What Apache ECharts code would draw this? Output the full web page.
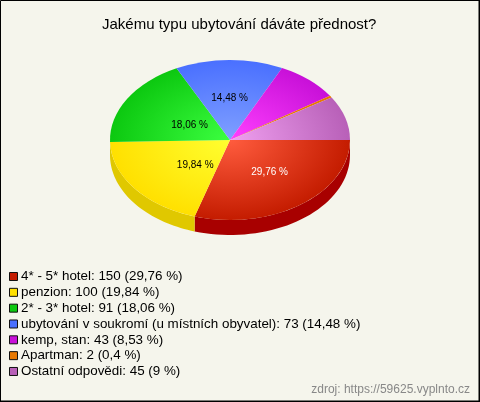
<!DOCTYPE html>
<html><head><meta charset="utf-8">
<style>html,body{margin:0;padding:0;background:#f5f5ec}#c{width:480px;height:402px}</style>
<script src="https://cdn.jsdelivr.net/npm/echarts@6/dist/echarts.min.js"></script>
</head><body><div id="c"></div>
<script>
const categories = ['4* - 5* hotel','penzion','2* - 3* hotel','ubytování v soukromí (u místních obyvatel)','kemp, stan','Apartman','Ostatní odpovědi'];
const values = [150,100,91,73,43,2,45];
const percentLabels = ['29,76 %','19,84 %','18,06 %','14,48 %','8,53 %','0,4 %','9 %'];
const edgeColors = ['#c41c00','#ffe000','#0cc810','#4a70ff','#c810d8','#e87800','#b860b8'];
const centerColors = ['#ff5c3e','#ffff30','#3cff40','#80a0ff','#ff40ff','#e87800','#f0a0f0'];
const wallColors = ['#a80000','#e0c800','#0a9a0c','#3050c0','#9a0ca8','#b05c00','#8c4a8c'];
const labelColors = ['#fff','#000','#000','#000','#000','#000','#000'];
const labelShift = [[4,0],[13,1],[11,6],[0,-2],[0,0],[0,0],[0,0]];

const CX=230, CY=140, RX=120, RY=80, DEPTH=15;
const total = values.reduce((a,b)=>a+b,0);
let acc=0;
const spans = values.map(v=>{const s=acc/total*2*Math.PI; acc+=v; return [s,acc/total*2*Math.PI];});

function slice(i){
  return function(params,api){
    const [a0,a1]=spans[i];
    const children=[];
    const w0=Math.max(a0,0), w1=Math.min(a1,Math.PI);
    if(w1>w0){
      const pts=[]; const n=40;
      for(let k=0;k<=n;k++){const t=w0+(w1-w0)*k/n; pts.push([CX+RX*Math.cos(t),CY+RY*Math.sin(t)]);}
      for(let k=n;k>=0;k--){const t=w0+(w1-w0)*k/n; pts.push([CX+RX*Math.cos(t),CY+DEPTH+RY*Math.sin(t)]);}
      children.push({type:'polygon',shape:{points:pts},style:{fill:wallColors[i]}});
    }
    children.push({type:'group',x:CX,y:CY,scaleY:RY/RX,children:[{
      type:'sector',
      shape:{cx:0,cy:0,r:RX,r0:0,startAngle:a0,endAngle:a1,clockwise:true},
      style:{fill:{type:'radial',x:0,y:0,r:RX,global:true,colorStops:[
        {offset:0,color:centerColors[i]},{offset:1,color:edgeColors[i]}]}}
    }]});
    return {type:'group',children};
  };
}
function labelSeries(){
  return {type:'custom',coordinateSystem:'none',silent:true,z:5,data:[0],
    renderItem(){
      const children=[];
      values.forEach((v,i)=>{
        if(v/total<0.1) return;
        const m=(spans[i][0]+spans[i][1])/2;
        children.push({type:'text',style:{
          x:CX+RX*0.5*Math.cos(m)+labelShift[i][0],
          y:CY+RY*0.5*Math.sin(m)+labelShift[i][1],
          text:percentLabels[i],fill:labelColors[i],
          font:'10px "Liberation Sans",Arial,sans-serif',align:'center',verticalAlign:'middle'}});
      });
      return {type:'group',children};
    }};
}
const names = categories.map((c,i)=>`${c}: ${values[i]} (${percentLabels[i]})`);
const chart = echarts.init(document.getElementById('c'),null,{renderer:'canvas'});
chart.setOption({
  animation:false,
  backgroundColor:'#f5f5ec',
  title:{text:'Jakému typu ubytování dáváte přednost?',left:97,top:12,
    textStyle:{fontFamily:'"Liberation Sans",Arial,sans-serif',fontSize:15,fontWeight:'normal',color:'#000'}},
  legend:{orient:'vertical',left:9,top:270,padding:0,itemWidth:8,itemHeight:8,itemGap:2.83,
    icon:'rect',selectedMode:false,
    itemStyle:{borderColor:'#111',borderWidth:1},
    textStyle:{fontFamily:'"Liberation Sans",Arial,sans-serif',fontSize:13.4,color:'#000',padding:[0,0,0,-1.5]},
    data:names},
  graphic:[
    {type:'rect',z:100,shape:{x:0.5,y:0.5,width:478.5,height:400.5},style:{fill:'none',stroke:'#000',lineWidth:1}},
    {type:'rect',z:100,shape:{x:479,y:0,width:1,height:402},style:{fill:'#000'}},
    {type:'rect',z:100,shape:{x:0,y:401,width:480,height:1},style:{fill:'#000'}},
    {type:'text',z:100,right:10,top:384,style:{text:'zdroj: https://59625.vyplnto.cz',fill:'#888',font:'12px "Liberation Sans",Arial,sans-serif'}}
  ],
  series:[...names.map((n,i)=>({type:'custom',name:n,coordinateSystem:'none',silent:true,
      itemStyle:{color:edgeColors[i]},data:[values[i]],renderItem:slice(i)})),labelSeries()]
});
</script></body></html>
